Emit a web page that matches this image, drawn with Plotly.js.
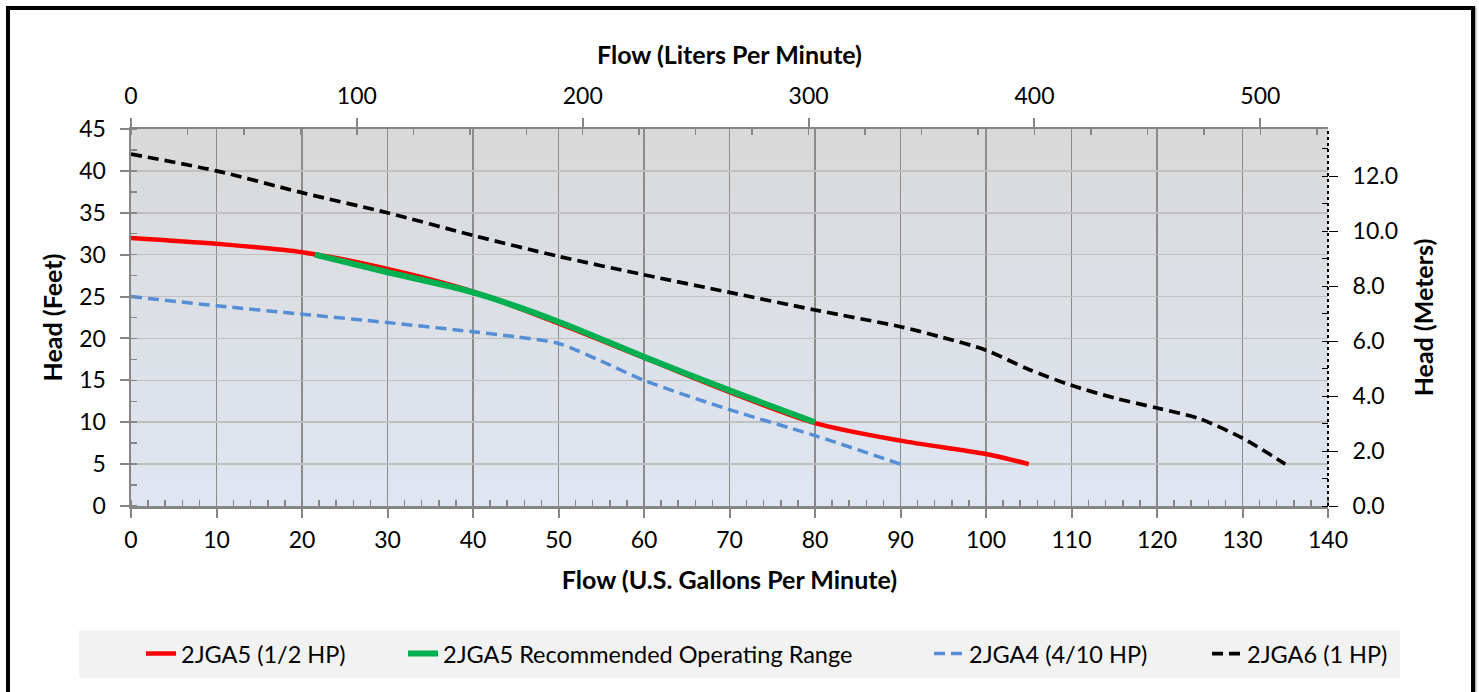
<!DOCTYPE html>
<html>
<head>
<meta charset="utf-8">
<script src="https://cdn.plot.ly/plotly-3.0.1.min.js"></script>
<style>
  html, body { margin: 0; padding: 0; background: #fff; }
  #wrap { position: relative; width: 1479px; height: 692px; overflow: hidden; }
  #chart { position: absolute; left: 0; top: 0; width: 1479px; height: 692px; }
  #frame { position: absolute; left: 6px; top: 6px; width: 1461px; height: 720px;
           border: 4px solid #000; pointer-events: none; box-shadow: 1px 1px 2px #888; }
</style>
</head>
<body>
<div id="wrap">
  <div id="chart"></div>
  <div id="frame"></div>
</div>
<script>
// ---- Data (flow in U.S. GPM, head in feet) ----
const seriesNames = ["2JGA5 (1/2 HP)", "2JGA5 Recommended Operating Range", "2JGA4 (4/10 HP)", "2JGA6 (1 HP)"];

const gpm_2JGA5 = [0, 10, 20, 30, 40, 50, 60, 70, 80, 90, 100, 105];
const head_2JGA5 = [32, 31.3, 30.3, 28.3, 25.6, 21.8, 17.7, 13.6, 9.9, 7.8, 6.2, 5];

const gpm_range = [21.5, 30, 40, 50, 60, 70, 80];
const head_range = [30, 27.9, 25.5, 22, 17.8, 13.8, 10];

const gpm_2JGA4 = [0, 10, 20, 30, 40, 45, 50, 55, 60, 70, 80, 90];
const head_2JGA4 = [25, 23.9, 22.9, 21.9, 20.8, 20.2, 19.4, 17.3, 15.0, 11.5, 8.4, 5];

const gpm_2JGA6 = [0, 10, 20, 30, 40, 50, 60, 70, 80, 90, 95, 100, 105, 110, 115, 120, 125, 130, 135];
const head_2JGA6 = [42, 40, 37.4, 35, 32.3, 29.8, 27.6, 25.5, 23.4, 21.4, 20.1, 18.6, 16.3, 14.4, 12.9, 11.7, 10.4, 8.1, 5];

// axis extents and unit conversions
const gpmRange = [0, 140];
const feetRange = [0, 45];
const LPM_PER_GPM = 3.785411784;
const M_PER_FT = 0.3048;

const FONT = "Lato, 'Open Sans', sans-serif";

const traces = [
  { x: gpm_2JGA5, y: head_2JGA5, name: seriesNames[0], mode: "lines",
    line: { color: "#ff0000", width: 4.5, shape: "spline", smoothing: 0.8 }, legend: "legend" },
  { x: gpm_range, y: head_range, name: seriesNames[1], mode: "lines",
    line: { color: "#00b050", width: 6, shape: "spline", smoothing: 0.8 }, legend: "legend2" },
  { x: gpm_2JGA4, y: head_2JGA4, name: seriesNames[2], mode: "lines",
    line: { color: "#558ed5", width: 3.5, shape: "spline", smoothing: 0.8, dash: "11px,6px" }, legend: "legend3" },
  { x: gpm_2JGA6, y: head_2JGA6, name: seriesNames[3], mode: "lines",
    line: { color: "#000000", width: 3.7, shape: "spline", smoothing: 0.8, dash: "11px,6px" }, legend: "legend4" },
  // empty helper traces so the secondary (L/min, metres) axes are drawn
  { x: [], y: [], xaxis: "x2", yaxis: "y", mode: "lines", showlegend: false, hoverinfo: "skip" },
  { x: [], y: [], xaxis: "x", yaxis: "y2", mode: "lines", showlegend: false, hoverinfo: "skip" }
];

const tickFont = { family: FONT, size: 23, color: "#000" };
const titleFont = { family: FONT, size: 25, color: "#000", weight: "bold" };
const legFont = { family: FONT, size: 23.5, color: "#000" };

function pxX(px) { return (px - 131) / 1197; }
const legY = -0.392;

const bgSvg = "data:image/svg+xml;utf8," + encodeURIComponent(
  '<svg xmlns="http://www.w3.org/2000/svg" width="10" height="100" preserveAspectRatio="none">' +
  '<defs><linearGradient id="g" x1="0" y1="0" x2="0" y2="1">' +
  '<stop offset="0" stop-color="#d9d9d9"/><stop offset="1" stop-color="#dfe6f2"/></linearGradient></defs>' +
  '<rect width="10" height="100" fill="url(#g)"/></svg>');

const legendCommon = { orientation: "h", yanchor: "middle", xanchor: "left", y: legY,
  bgcolor: "rgba(0,0,0,0)", borderwidth: 0, font: legFont };

const layout = {
  width: 1479, height: 692,
  margin: { l: 131, r: 151, t: 129, b: 186, pad: 0 },
  paper_bgcolor: "#ffffff",
  plot_bgcolor: "rgba(0,0,0,0)",
  showlegend: true,
  font: { family: FONT, color: "#000" },
  xaxis: {
    range: gpmRange, dtick: 10, tick0: 0, showgrid: true, gridcolor: "#8c8c8c", gridwidth: 1.5,
    zeroline: false, showline: true, linecolor: "#868686", linewidth: 2.5,
    ticks: "outside", ticklen: 9, tickwidth: 2, tickcolor: "#868686",
    minor: { dtick: 2, ticks: "inside", ticklen: 6, tickwidth: 1.5, tickcolor: "#868686", showgrid: false },
    tickfont: tickFont, ticklabelstandoff: 3,
    title: { text: "Flow (U.S. Gallons Per Minute)", font: titleFont, standoff: 20 },
    automargin: false, fixedrange: true
  },
  xaxis2: {
    overlaying: "x", side: "top", anchor: "y",
    range: [gpmRange[0] * LPM_PER_GPM, gpmRange[1] * LPM_PER_GPM], dtick: 100, tick0: 0,
    showgrid: false, zeroline: false, showline: true, linecolor: "#868686", linewidth: 2.5,
    ticks: "outside", ticklen: 9, tickwidth: 2, tickcolor: "#868686",
    minor: { dtick: 25, ticks: "inside", ticklen: 6, tickwidth: 1.5, tickcolor: "#868686", showgrid: false },
    tickfont: tickFont, ticklabelstandoff: 4,
    title: { text: "Flow (Liters Per Minute)", font: titleFont, standoff: 10 },
    automargin: false, fixedrange: true
  },
  yaxis: {
    range: feetRange, dtick: 5, tick0: 0, showgrid: true, gridcolor: "#bfbfbf", gridwidth: 1.5,
    zeroline: false, showline: true, linecolor: "#868686", linewidth: 2.5,
    ticks: "outside", ticklen: 9, tickwidth: 2, tickcolor: "#868686",
    minor: { dtick: 2.5, ticks: "inside", ticklen: 6, tickwidth: 1.5, tickcolor: "#868686", showgrid: false },
    tickfont: tickFont, ticklabelstandoff: 9,
    title: { text: "Head (Feet)", font: titleFont, standoff: 10 },
    automargin: false, fixedrange: true
  },
  yaxis2: {
    overlaying: "y", side: "right", anchor: "x",
    range: [feetRange[0] * M_PER_FT, feetRange[1] * M_PER_FT], dtick: 2, tick0: 0, tickformat: ".1f",
    showgrid: false, zeroline: false, showline: false,
    ticks: "outside", ticklen: 9, tickwidth: 1, tickcolor: "#000",
    minor: { dtick: 1, ticks: "inside", ticklen: 6, tickwidth: 1, tickcolor: "#000", showgrid: false },
    tickfont: tickFont, ticklabelstandoff: 10,
    title: { text: "Head (Meters)", font: titleFont, standoff: 18 },
    automargin: false, fixedrange: true
  },
  images: [{ source: bgSvg, xref: "paper", yref: "paper", x: 0, y: 1, sizex: 1, sizey: 1,
             sizing: "stretch", layer: "below", xanchor: "left", yanchor: "top" }],
  shapes: [
    { type: "rect", xref: "paper", yref: "paper", x0: pxX(79), x1: pxX(1400), y0: -0.329, y1: -0.456,
      fillcolor: "#f2f2f2", line: { width: 0 }, layer: "below" },
    { type: "line", xref: "paper", yref: "paper", x0: 1, x1: 1, y0: 0, y1: 1,
      line: { color: "#000", width: 2, dash: "dot" } }
  ],
  legend: Object.assign({}, legendCommon, { x: pxX(141) }),
  legend2: Object.assign({}, legendCommon, { x: pxX(403) }),
  legend3: Object.assign({}, legendCommon, { x: pxX(929) }),
  legend4: Object.assign({}, legendCommon, { x: pxX(1207) })
};

Plotly.newPlot("chart", traces, layout, { displayModeBar: false, staticPlot: true });
</script>
</body>
</html>
